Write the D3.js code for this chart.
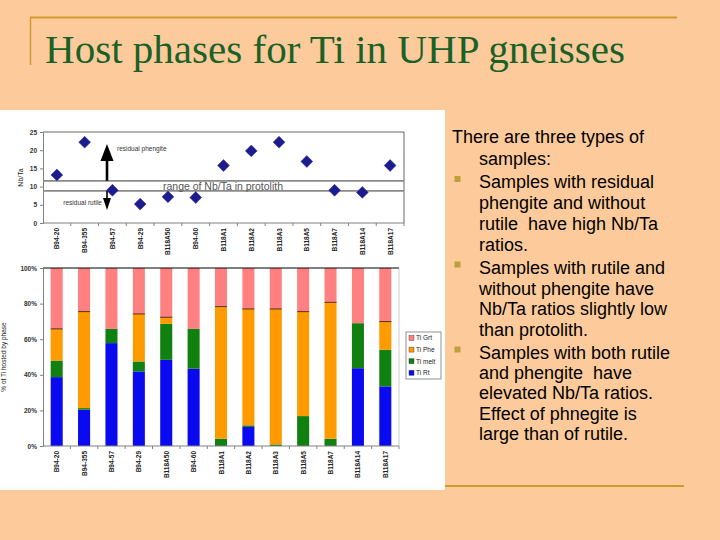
<!DOCTYPE html>
<html>
<head>
<meta charset="utf-8">
<script src="https://cdn.jsdelivr.net/npm/d3@7"></script>
<style>
  html, body { margin: 0; padding: 0; background: #FDCB9B; }
  svg { display: block; }
  text { font-family: "Liberation Sans", Arial, sans-serif; }
</style>
</head>
<body>
<svg id="slide" width="720" height="540"></svg>
<script>
// ---------- data ----------
const categories = ["B94-20","B94-355","B94-57","B94-29","B118A50","B94-60","B118A1","B118A2","B118A3","B118A5","B118A7","B118A14","B118A17"];
const nbTa   = [13.2, 22.2, 9.0, 5.2, 7.2, 7.0, 15.8, 19.8, 22.2, 16.9, 9.0, 8.4, 15.8];
const protolithRange = [8.8, 11.6];
const topTicks = [0, 5, 10, 15, 20, 25];

const phaseKeys  = ["Ti Rt", "Ti melt", "Ti Phe", "Ti Grt"];
const phaseColors = ["#0A0AF0", "#108010", "#FF9A00", "#FF8080"];
const tiRt   = [38.7, 20.4, 57.8, 41.9, 48.4, 43.4, 0.0, 10.7, 0.0, 0.0, 0.0, 43.7, 33.5];
const tiMelt = [9.3, 0.9, 8.0, 5.6, 20.2, 22.4, 4.1, 0.9, 0.9, 16.8, 4.1, 25.3, 20.5];
const tiPhe  = [17.8, 54.2, 0.0, 26.7, 3.7, 0.0, 74.2, 65.4, 76.1, 58.7, 76.6, 0.0, 15.9];
const tiGrt  = [34.2, 24.5, 34.2, 25.8, 27.7, 34.2, 21.7, 23.0, 23.0, 24.5, 19.3, 31.0, 30.1];
const bottomTicks = [0, 20, 40, 60, 80, 100];
const legendOrder = ["Ti Grt", "Ti Phe", "Ti melt", "Ti Rt"];

const titleText = "Host phases for Ti in UHP gneisses";
const bodyLines = [
  {t: "There are three types of", indent: false, bullet: false},
  {t: "samples:", indent: true, bullet: false},
  {t: "Samples with residual", indent: true, bullet: true},
  {t: "phengite and without", indent: true, bullet: false},
  {t: "rutile  have high Nb/Ta", indent: true, bullet: false},
  {t: "ratios.", indent: true, bullet: false},
  {t: "Samples with rutile and", indent: true, bullet: true},
  {t: "without phengite have", indent: true, bullet: false},
  {t: "Nb/Ta ratios slightly low", indent: true, bullet: false},
  {t: "than protolith.", indent: true, bullet: false},
  {t: "Samples with both rutile", indent: true, bullet: true},
  {t: "and phengite  have", indent: true, bullet: false},
  {t: "elevated Nb/Ta ratios.", indent: true, bullet: false},
  {t: "Effect of phnegite is", indent: true, bullet: false},
  {t: "large than of rutile.", indent: true, bullet: false}
];
const bodyBaselines = [143, 164.5, 188, 209, 229.5, 250.5, 273.5, 294.5, 315, 335.5, 358.5, 379, 399, 419.5, 440];

// ---------- slide frame ----------
const svg = d3.select("#slide");
svg.append("rect").attr("width", 720).attr("height", 540).attr("fill", "#FDCB9B");
const gold = "#CF9A2E";
svg.append("line").attr("x1", 30).attr("x2", 677).attr("y1", 17.5).attr("y2", 17.5).attr("stroke", gold).attr("stroke-width", 2);
svg.append("line").attr("x1", 30.5).attr("x2", 30.5).attr("y1", 17).attr("y2", 65).attr("stroke", gold).attr("stroke-width", 1.5);
svg.append("text").attr("x", 45).attr("y", 63)
  .style("font-family", "'Liberation Serif', 'DejaVu Serif', serif")
  .attr("font-size", 40).attr("fill", "#1A6128")
  .attr("textLength", 580).attr("lengthAdjust", "spacingAndGlyphs")
  .text(titleText);

// white chart panel
svg.append("rect").attr("x", 0).attr("y", 110).attr("width", 445).attr("height", 380).attr("fill", "#FFFFFF");

// bottom gold line
svg.append("line").attr("x1", 445).attr("x2", 684).attr("y1", 486).attr("y2", 486).attr("stroke", gold).attr("stroke-width", 2);

// body text
const body = svg.append("g");
bodyLines.forEach((ln, i) => {
  body.append("text").attr("x", ln.indent ? 479 : 452).attr("y", bodyBaselines[i])
    .attr("font-size", 18).attr("fill", "#000").style("white-space", "pre")
    .text(ln.t);
  if (ln.bullet) {
    body.append("rect").attr("x", 454.5).attr("y", bodyBaselines[i] - 12).attr("width", 6).attr("height", 6)
      .attr("fill", "#BBA03C");
  }
});

// ---------- top chart: Nb/Ta ----------
const axisGray = "#808080";
const xTop = d3.scaleBand().domain(categories).range([43, 404]).padding(0);
const yTop = d3.scaleLinear().domain([0, 25]).range([223, 132]);
const gTop = svg.append("g");

// frame (top & right)
gTop.append("line").attr("x1", 43).attr("x2", 404).attr("y1", yTop(25)).attr("y2", yTop(25)).attr("stroke", "#666").attr("stroke-width", 1);
gTop.append("line").attr("x1", 404).attr("x2", 404).attr("y1", yTop(25)).attr("y2", yTop(0)).attr("stroke", "#666").attr("stroke-width", 1);

// y axis
const yAxTop = gTop.append("g").attr("transform", "translate(43,0)")
  .call(d3.axisLeft(yTop).tickValues(topTicks).tickSize(3).tickPadding(3));
yAxTop.select(".domain").attr("stroke", axisGray);
yAxTop.selectAll(".tick line").attr("stroke", axisGray);
yAxTop.selectAll("text").attr("font-size", 6.5).attr("fill", "#333").attr("font-weight", "bold");

// x axis (ticks between categories)
const xAxTop = gTop.append("g").attr("transform", `translate(0,${yTop(0)})`);
xAxTop.append("line").attr("x1", 43).attr("x2", 404).attr("stroke", axisGray);
xAxTop.selectAll("line.tk").data(categories).enter().append("line").attr("class", "tk")
  .attr("x1", d => xTop(d) + xTop.bandwidth()).attr("x2", d => xTop(d) + xTop.bandwidth())
  .attr("y1", 0).attr("y2", 3).attr("stroke", axisGray);
xAxTop.selectAll("text").data(categories).enter().append("text")
  .attr("transform", d => `translate(${xTop(d) + xTop.bandwidth() / 2 + 2.5},5) rotate(-90)`)
  .attr("text-anchor", "end").attr("font-size", 6.5).attr("font-weight", "bold").attr("fill", "#222")
  .text(d => d);

// axis title
gTop.append("text").attr("transform", `translate(23,${(yTop(0) + yTop(25)) / 2}) rotate(-90)`)
  .attr("text-anchor", "middle").attr("font-size", 7).attr("fill", "#222").text("Nb/Ta");

// protolith range lines
protolithRange.forEach(v => {
  gTop.append("line").attr("x1", 43).attr("x2", 404).attr("y1", yTop(v)).attr("y2", yTop(v))
    .attr("stroke", "#8a8a8a").attr("stroke-width", 1.8);
});
gTop.append("text").attr("x", 223).attr("y", (yTop(protolithRange[0]) + yTop(protolithRange[1])) / 2 + 4)
  .attr("text-anchor", "middle").attr("font-size", 11.5).attr("fill", "#555")
  .attr("textLength", 120).attr("lengthAdjust", "spacingAndGlyphs")
  .text("range of Nb/Ta in protolith");

// arrows
const arrowX = 107;
const yUpper = yTop(protolithRange[1]);
const yLower = yTop(protolithRange[0]);
gTop.append("line").attr("x1", arrowX).attr("x2", arrowX).attr("y1", yUpper).attr("y2", 156)
  .attr("stroke", "#000").attr("stroke-width", 2.6);
gTop.append("path").attr("d", `M${arrowX},144 L${arrowX + 6.5},161 L${arrowX - 6.5},161 Z`).attr("fill", "#000");
gTop.append("line").attr("x1", arrowX).attr("x2", arrowX).attr("y1", yLower).attr("y2", 200)
  .attr("stroke", "#000").attr("stroke-width", 1.6);
gTop.append("path").attr("d", `M${arrowX},210 L${arrowX + 4},198 L${arrowX - 4},198 Z`).attr("fill", "#000");
gTop.append("text").attr("x", 117).attr("y", 151).attr("font-size", 6.5).attr("fill", "#333").text("residual phengite");
gTop.append("text").attr("x", 102).attr("y", 205).attr("text-anchor", "end").attr("font-size", 6.5).attr("fill", "#333").text("residual rutile");

// diamonds
gTop.selectAll("path.pt").data(categories).enter().append("path").attr("class", "pt")
  .attr("d", d3.symbol().type(d3.symbolSquare).size(70))
  .attr("transform", (d, i) => `translate(${xTop(d) + xTop.bandwidth() / 2},${yTop(nbTa[i])}) rotate(45)`)
  .attr("fill", "#1C1C8C").attr("stroke", "#2a2aa0").attr("stroke-width", 0.5);

// ---------- bottom chart: stacked % ----------
const table = categories.map((c, i) => ({
  cat: c, "Ti Rt": tiRt[i], "Ti melt": tiMelt[i], "Ti Phe": tiPhe[i], "Ti Grt": tiGrt[i]
}));
const stacked = d3.stack().keys(phaseKeys)(table);
const color = d3.scaleOrdinal().domain(phaseKeys).range(phaseColors);

const xBot = d3.scaleBand().domain(categories).range([43, 399]).paddingInner(0.56).paddingOuter(0.28);
const yBot = d3.scaleLinear().domain([0, 100]).range([446, 268]);
const gBot = svg.append("g");

// right border light
gBot.append("line").attr("x1", 399).attr("x2", 399).attr("y1", yBot(100)).attr("y2", yBot(0)).attr("stroke", "#ccc");

gBot.selectAll("g.layer").data(stacked).enter().append("g").attr("class", "layer")
  .attr("fill", d => color(d.key))
  .selectAll("rect").data(d => d).enter().append("rect")
  .attr("x", d => xBot(d.data.cat))
  .attr("width", xBot.bandwidth())
  .attr("y", d => yBot(d[1]))
  .attr("height", d => yBot(d[0]) - yBot(d[1]));

// dark edge at the top of phengite segments
const pheLayer = stacked.find(s => s.key === "Ti Phe");
gBot.selectAll("line.edge").data(pheLayer.filter(d => d[1] - d[0] > 0)).enter().append("line").attr("class", "edge")
  .attr("x1", d => xBot(d.data.cat)).attr("x2", d => xBot(d.data.cat) + xBot.bandwidth())
  .attr("y1", d => yBot(d[1])).attr("y2", d => yBot(d[1]))
  .attr("stroke", "#3a2a10").attr("stroke-width", 0.9);

// top frame line
gBot.append("line").attr("x1", 43).attr("x2", 399).attr("y1", yBot(100)).attr("y2", yBot(100)).attr("stroke", "#000").attr("stroke-width", 1);

// y axis
const yAxBot = gBot.append("g").attr("transform", "translate(43,0)")
  .call(d3.axisLeft(yBot).tickValues(bottomTicks).tickFormat(d => d + "%").tickSize(3).tickPadding(3));
yAxBot.select(".domain").attr("stroke", axisGray);
yAxBot.selectAll(".tick line").attr("stroke", axisGray);
yAxBot.selectAll("text").attr("font-size", 6.5).attr("fill", "#333").attr("font-weight", "bold");

// x axis
const xAxBot = gBot.append("g").attr("transform", `translate(0,${yBot(0)})`);
xAxBot.append("line").attr("x1", 43).attr("x2", 399).attr("stroke", axisGray);
const bandStep = xBot.step();
xAxBot.selectAll("line.tk").data(categories).enter().append("line").attr("class", "tk")
  .attr("x1", d => xBot(d) + xBot.bandwidth() / 2 + bandStep / 2)
  .attr("x2", d => xBot(d) + xBot.bandwidth() / 2 + bandStep / 2)
  .attr("y1", 0).attr("y2", 3).attr("stroke", axisGray);
xAxBot.selectAll("text").data(categories).enter().append("text")
  .attr("transform", d => `translate(${xBot(d) + xBot.bandwidth() / 2 + 2.5},5) rotate(-90)`)
  .attr("text-anchor", "end").attr("font-size", 6.5).attr("font-weight", "bold").attr("fill", "#222")
  .text(d => d);

// y title
gBot.append("text").attr("transform", `translate(6,${(yBot(0) + yBot(100)) / 2}) rotate(-90)`)
  .attr("text-anchor", "middle").attr("font-size", 6.5).attr("fill", "#222").text("% of Ti hosted by phase");

// legend
const lg = gBot.append("g").attr("transform", "translate(406,332)");
lg.append("rect").attr("x", 0).attr("y", 0).attr("width", 35).attr("height", 47)
  .attr("fill", "#fff").attr("stroke", "#777").attr("stroke-width", 0.8);
legendOrder.forEach((k, i) => {
  const yy = 6 + i * 11.6;
  lg.append("rect").attr("x", 3).attr("y", yy - 2.5).attr("width", 5).attr("height", 5)
    .attr("fill", color(k)).attr("stroke", "#333").attr("stroke-width", 0.4);
  lg.append("text").attr("x", 10).attr("y", yy + 2.3).attr("font-size", 6.5).attr("fill", "#222").text(k);
});
</script>
</body>
</html>
